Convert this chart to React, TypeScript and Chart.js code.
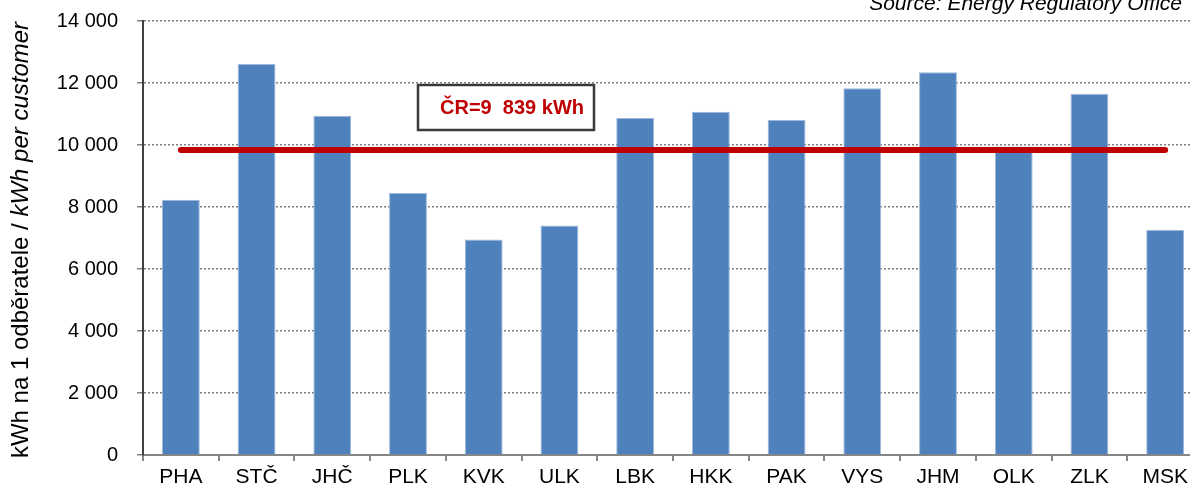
import React, { useEffect, useRef } from "react";
import { Chart, registerables } from "chart.js";

Chart.register(...registerables);

const categories = ["PHA", "STČ", "JHČ", "PLK", "KVK", "ULK", "LBK", "HKK", "PAK", "VYS", "JHM", "OLK", "ZLK", "MSK"];
const consumption = [8230, 12610, 10940, 8450, 6950, 7400, 10870, 11070, 10810, 11830, 12350, 9950, 11650, 7270];
const nationalAverage = 9839;
const averageSeries = categories.map(() => nationalAverage);
const yTicks = [0, 2000, 4000, 6000, 8000, 10000, 12000, 14000];

const annotationText = "ČR=9  839 kWh";
const sourceText = "Source: Energy Regulatory Office";
const titleNormal = "kWh na 1 odběratele / ";
const titleItalic = "kWh per customer";

const FONT = "'Liberation Sans', Arial, sans-serif";

const fmt = (v: number) => {
  const s = Math.round(v).toString();
  return s.replace(/\B(?=(\d{3})+(?!\d))/g, " ");
};

const overlayPlugin = {
  id: "overlay",
  afterDraw(chart: any) {
    const ctx = chart.ctx as CanvasRenderingContext2D;
    ctx.save();
    // Source text
    ctx.font = `italic 21px ${FONT}`;
    ctx.fillStyle = "#000";
    ctx.textAlign = "right";
    ctx.textBaseline = "alphabetic";
    ctx.fillText(sourceText, 1182, 10);

    // Annotation box
    const bx = 418, by = 85, bw = 176, bh = 45;
    ctx.fillStyle = "#ffffff";
    ctx.fillRect(bx, by, bw, bh);
    ctx.strokeStyle = "#3a3a3a";
    ctx.lineWidth = 2.5;
    ctx.strokeRect(bx, by, bw, bh);
    ctx.font = `bold 20px ${FONT}`;
    ctx.fillStyle = "#C00000";
    ctx.textAlign = "center";
    ctx.fillText(annotationText, 512, 114);

    // Y axis title (mixed styles)
    ctx.translate(21, 240);
    ctx.rotate(-Math.PI / 2);
    ctx.fillStyle = "#000";
    ctx.textBaseline = "middle";
    ctx.textAlign = "left";
    const fN = `24px ${FONT}`;
    const fI = `italic 24px ${FONT}`;
    ctx.font = fN;
    const w1 = ctx.measureText(titleNormal).width;
    ctx.font = fI;
    const w2 = ctx.measureText(titleItalic).width;
    const start = -(w1 + w2) / 2;
    ctx.font = fN;
    ctx.fillText(titleNormal, start, 0);
    ctx.font = fI;
    ctx.fillText(titleItalic, start + w1, 0);
    ctx.restore();
  },
};

export default function App() {
  const ref = useRef<HTMLCanvasElement | null>(null);
  useEffect(() => {
    if (!ref.current) return;
    const chart = new Chart(ref.current, {
      type: "bar",
      data: {
        labels: categories,
        datasets: [
          {
            type: "line",
            label: "ČR",
            data: averageSeries,
            borderColor: "#C00000",
            borderWidth: 6,
            pointRadius: 0,
            borderCapStyle: "round",
            fill: false,
            order: 0,
          } as any,
          {
            type: "bar",
            label: "kWh",
            data: consumption,
            backgroundColor: "#4F81BD",
            borderColor: "#9DB8DB",
            borderWidth: 1,
            barPercentage: 0.5,
            categoryPercentage: 1,
            order: 1,
          },
        ],
      },
      options: {
        responsive: false,
        animation: false,
        devicePixelRatio: 1,
        layout: { padding: { top: 21, right: 7, left: 0, bottom: 0 } },
        plugins: {
          legend: { display: false },
          tooltip: { enabled: false },
          title: { display: false },
        },
        scales: {
          x: {
            offset: true,
            grid: {
              drawOnChartArea: false,
              drawTicks: true,
              tickLength: 6,
              color: "#868686",
              lineWidth: 2,
              offset: true,
            },
            border: { color: "#868686", width: 2 },
            ticks: {
              color: "#000",
              font: { family: FONT, size: 21 },
              padding: 4,
              maxRotation: 0,
              autoSkip: false,
            },
            afterFit(scale: any) {
              scale.height = 33;
              scale.paddingLeft = 0;
              scale.paddingRight = 0;
            },
          },
          y: {
            min: 0,
            max: 14000,
            afterBuildTicks(scale: any) {
              scale.ticks = yTicks.map((v) => ({ value: v }));
            },
            grid: {
              color: "#7f7f7f",
              lineWidth: 1.5,
              tickLength: 6,
              drawTicks: true,
            },
            border: { color: "#404040", width: 2, dash: [2, 2] },
            ticks: {
              color: "#000",
              font: { family: FONT, size: 20 },
              padding: 19,
              callback: (v: any) => fmt(Number(v)),
            },
            afterFit(scale: any) {
              scale.width = 143;
              scale.paddingTop = 0;
              scale.paddingBottom = 0;
            },
          },
        },
      },
      plugins: [overlayPlugin],
    } as any);
    return () => chart.destroy();
  }, []);
  return (
    <div style={{ position: "absolute", left: 0, top: 0, width: 1190, height: 488, overflow: "hidden", background: "#fff" }}>
      <canvas ref={ref} width={1210} height={488} style={{ display: "block" }} />
    </div>
  );
}
